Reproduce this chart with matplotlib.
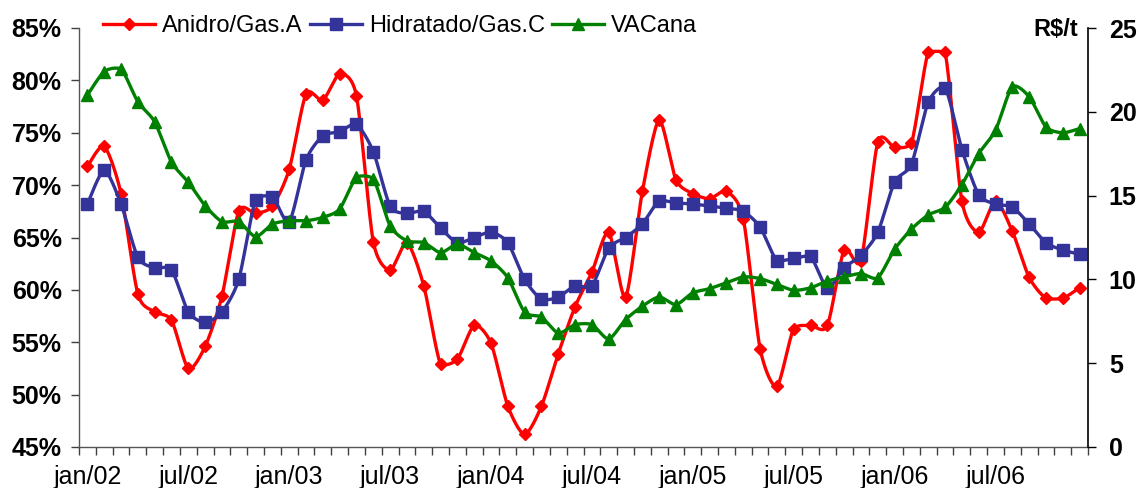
import numpy as np
import matplotlib
matplotlib.use("Agg")
import matplotlib.pyplot as plt
from matplotlib.lines import Line2D

plt.rcParams["font.family"] = ["Liberation Sans", "DejaVu Sans"]

# Monthly series, jan/02 .. dec/06
anidro = [71.8, 73.7, 69.2, 59.6, 57.9, 57.1, 52.5, 54.6, 59.4, 67.5, 67.3, 68.0,
          71.5, 78.7, 78.1, 80.6, 78.5, 64.6, 61.9, 64.5, 60.4, 52.9, 53.4, 56.6,
          54.9, 48.9, 46.2, 48.9, 53.9, 58.4, 61.7, 65.5, 59.3, 69.4, 76.2, 70.5,
          69.2, 68.7, 69.4, 66.8, 54.4, 50.8, 56.3, 56.6, 56.6, 63.8, 62.8, 74.1,
          73.6, 74.0, 82.7, 82.7, 68.5, 65.5, 68.5, 65.6, 61.2, 59.2, 59.2, 60.2]
hidratado = [68.2, 71.4, 68.2, 63.1, 62.1, 61.9, 57.9, 56.9, 57.9, 61.0, 68.6, 68.9,
             66.5, 72.4, 74.7, 75.1, 75.8, 73.2, 68.0, 67.3, 67.5, 65.9, 64.5, 65.0,
             65.5, 64.5, 61.0, 59.1, 59.3, 60.4, 60.4, 64.0, 65.0, 66.3, 68.5, 68.3,
             68.2, 68.0, 67.8, 67.5, 66.0, 62.8, 63.0, 63.2, 60.2, 62.1, 63.3, 65.5,
             70.3, 72.0, 77.9, 79.3, 73.4, 69.1, 68.2, 67.9, 66.3, 64.5, 63.8, 63.4]
vacana = [21.0, 22.4, 22.55, 20.6, 19.4, 17.0, 15.8, 14.4, 13.45, 13.45, 12.55, 13.3,
          13.5, 13.5, 13.7, 14.2, 16.1, 16.0, 13.2, 12.3, 12.2, 11.6, 12.1, 11.6,
          11.1, 10.1, 8.05, 7.75, 6.8, 7.3, 7.3, 6.45, 7.6, 8.4, 8.95, 8.5,
          9.2, 9.45, 9.8, 10.15, 10.05, 9.7, 9.35, 9.5, 9.9, 10.15, 10.35, 10.1,
          11.8, 13.0, 13.85, 14.3, 15.65, 17.5, 18.9, 21.5, 20.9, 19.1, 18.75, 19.0]

tick_labels = ["jan/02", "jul/02", "jan/03", "jul/03", "jan/04",
               "jul/04", "jan/05", "jul/05", "jan/06", "jul/06"]
left_ticks = [45, 50, 55, 60, 65, 70, 75, 80, 85]
right_ticks = [0, 5, 10, 15, 20, 25]

RED, BLUE, GREEN = "#FF0000", "#333399", "#008000"


def smooth(x, y, steps=16, k=1 / 8):
    """Bezier smoothing through every point (Catmull-Rom style control points)."""
    p = np.column_stack([np.asarray(x, float), np.asarray(y, float)])
    ext = np.vstack([p[0], p, p[-1]])
    t = np.linspace(0, 1, steps, endpoint=False)[:, None]
    pieces = []
    for i in range(len(p) - 1):
        p0, p1, p2, p3 = ext[i], ext[i + 1], ext[i + 2], ext[i + 3]
        c1 = p1 + (p2 - p0) * k
        c2 = p2 - (p3 - p1) * k
        # keep a segment joining two neighbouring peaks (or troughs) from bulging
        hump = (p1[1] >= p0[1] and p2[1] >= p3[1]) or (p1[1] <= p0[1] and p2[1] <= p3[1])
        if hump:
            lo, hi = min(p1[1], p2[1]), max(p1[1], p2[1])
            pad = 0.15 * (hi - lo) + 0.1
            c1[1] = np.clip(c1[1], lo - pad, hi + pad)
            c2[1] = np.clip(c2[1], lo - pad, hi + pad)
        pieces.append((1 - t) ** 3 * p1 + 3 * (1 - t) ** 2 * t * c1
                      + 3 * (1 - t) * t ** 2 * c2 + t ** 3 * p2)
    pieces.append(p[-1:])
    out = np.vstack(pieces)
    return out[:, 0], out[:, 1]


n = len(anidro)
x = np.arange(n)

W, H = 1139, 488
fig = plt.figure(figsize=(W / 100, H / 100), dpi=100)
L, R, T, B = 79, 1088, 28, 447
ax = fig.add_axes([L / W, 1 - B / H, (R - L) / W, (B - T) / H])
ax2 = ax.twinx()

lw = 2.4
sx, sy = smooth(x, anidro)
ax.plot(sx, sy, color=RED, lw=lw, zorder=3)
ax.plot(x, anidro, ls="none", marker="D", ms=6.6, color=RED, zorder=4)
sx, sy = smooth(x, hidratado)
ax.plot(sx, sy, color=BLUE, lw=lw, zorder=5)
ax.plot(x, hidratado, ls="none", marker="s", ms=8.3, color=BLUE, zorder=6)
sx, sy = smooth(x, vacana)
ax2.plot(sx, sy, color=GREEN, lw=lw, zorder=3)
ax2.plot(x, vacana, ls="none", marker="^", ms=9, color=GREEN, zorder=4)

ax.set_xlim(-0.5, n - 0.5)
ax.set_ylim(left_ticks[0], left_ticks[-1])
ax2.set_ylim(right_ticks[0], right_ticks[-1])

# category boundaries carry the tick marks; labels sit at every sixth month
ax.set_xticks(np.arange(-0.5, n, 1.0))
ax.set_xticklabels([])
ax.set_xticks(np.arange(0, n, 6), minor=True)
ax.set_xticklabels(tick_labels, minor=True, fontsize=18)
ax.tick_params(axis="x", which="major", direction="out", length=5.5, width=1,
               color="#404040")
ax.tick_params(axis="x", which="minor", length=0, pad=13)

ax.set_yticks(left_ticks)
ax.set_yticklabels([f"{v}%" for v in left_ticks], fontsize=18, fontweight="bold")
ax.tick_params(axis="y", direction="out", length=5.5, width=1, pad=7,
               color="#404040")

ax2.set_yticks(right_ticks)
ax2.set_yticklabels([str(v) for v in right_ticks], fontsize=18, fontweight="bold")
ax2.tick_params(axis="y", direction="out", length=6, width=1, pad=9)

for a in (ax, ax2):
    a.spines["top"].set_visible(False)
    a.patch.set_visible(False)
ax.spines["right"].set_visible(False)
ax.spines["left"].set_color("#555555")
ax.spines["bottom"].set_color("#555555")
ax2.spines["left"].set_visible(False)
ax2.spines["bottom"].set_visible(False)
ax2.spines["right"].set_color("black")
for s in ax.spines.values():
    s.set_linewidth(1)
ax2.spines["right"].set_linewidth(1.2)

fig.text(1078 / W, 1 - 29 / H, "R$/t", ha="right", va="center",
         fontsize=17, fontweight="bold")

handles = [
    Line2D([], [], color=RED, lw=lw, marker="D", ms=6.6),
    Line2D([], [], color=BLUE, lw=lw, marker="s", ms=8.3),
    Line2D([], [], color=GREEN, lw=lw, marker="^", ms=9),
]
fig.legend(handles, ["Anidro/Gas.A", "Hidratado/Gas.C", "VACana"],
           loc="center left", bbox_to_anchor=(103 / W, 1 - 26 / H),
           ncol=3, frameon=False, fontsize=17, borderpad=0, borderaxespad=0,
           handlelength=2.2, handletextpad=0.3, columnspacing=0.3)

fig.savefig("out.png", dpi=100)
